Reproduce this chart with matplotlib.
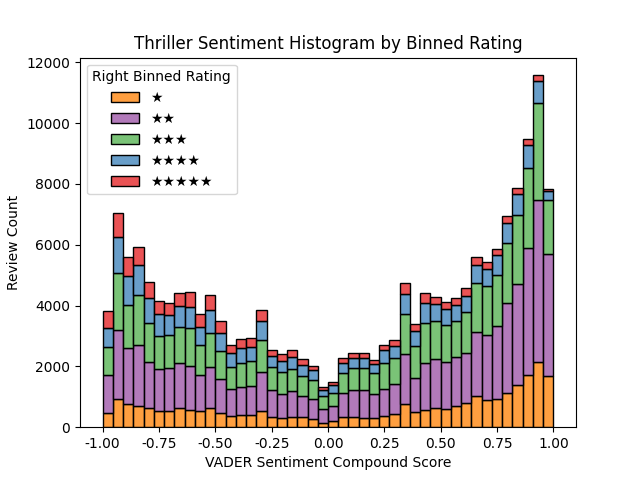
import numpy as np
import matplotlib
matplotlib.use("Agg")
import matplotlib.pyplot as plt
from matplotlib.colors import to_rgba

# Review counts per sentiment bin (44 bins over [-1, 1]) for each binned rating
one_star = [460, 921, 756, 690, 625, 526, 526, 625, 559, 526, 625, 460, 362, 395, 395, 526,
            329, 296, 329, 329, 263, 132, 197, 329, 329, 296, 296, 362, 427, 756, 493, 559,
            625, 592, 690, 789, 1019, 888, 921, 1118, 1381, 1710, 2137, 1677]
two_star = [1250, 2268, 1842, 2006, 1512, 1381, 1414, 1479, 1447, 1184, 1348, 1118, 887, 920,
            953, 1282, 888, 789, 855, 690, 658, 460, 493, 789, 888, 921, 789, 887, 987, 1644,
            1118, 1545, 1611, 1545, 1612, 1644, 2105, 2137, 2400, 2959, 3321, 4176, 5326, 4011]
three_star = [920, 1874, 1413, 1644, 1283, 1085, 1085, 1184, 1249, 986, 1118, 921, 724, 789,
              822, 1053, 756, 723, 723, 658, 624, 427, 428, 658, 723, 723, 691, 855, 855, 1315,
              1052, 1316, 1249, 1217, 1183, 1348, 1611, 1611, 1677, 1973, 2268, 2629, 3189, 1775]
four_star = [625, 1184, 954, 987, 822, 723, 658, 690, 691, 592, 756, 592, 460, 494, 460, 624,
             361, 362, 395, 362, 329, 198, 263, 328, 329, 329, 295, 428, 394, 658, 493, 657,
             559, 526, 526, 526, 592, 559, 657, 658, 690, 756, 723, 296]
five_star = [559, 789, 625, 591, 526, 428, 394, 428, 493, 427, 493, 394, 263, 295, 296, 362,
             198, 230, 230, 197, 132, 98, 99, 165, 164, 164, 132, 164, 198, 362, 231, 329,
             230, 230, 231, 263, 263, 230, 198, 241, 207, 197, 197, 66]
labels = ["★", "★★", "★★★", "★★★★", "★★★★★"]
series = [one_star, two_star, three_star, four_star, five_star]
colors = ["#ff7f00", "#984ea3", "#4daf4a", "#377eb8", "#e41a1c"]

edges = np.linspace(-1, 1, len(one_star) + 1)
centers = (edges[:-1] + edges[1:]) / 2

fig, ax = plt.subplots(figsize=(6.4, 4.8), dpi=100)
ax.hist([centers] * len(series), bins=edges, weights=series, stacked=True,
        color=[to_rgba(c, 0.75) for c in colors], edgecolor="black", linewidth=1,
        label=labels)
ax.set_title("Thriller Sentiment Histogram by Binned Rating")
ax.set_xlabel("VADER Sentiment Compound Score")
ax.set_ylabel("Review Count")
ax.set_xticks(np.arange(-1, 1.01, 0.25))
ax.xaxis.set_major_formatter(matplotlib.ticker.FormatStrFormatter("%.2f"))
ax.legend(title="Right Binned Rating", loc="upper left")
fig.savefig("out.png")
